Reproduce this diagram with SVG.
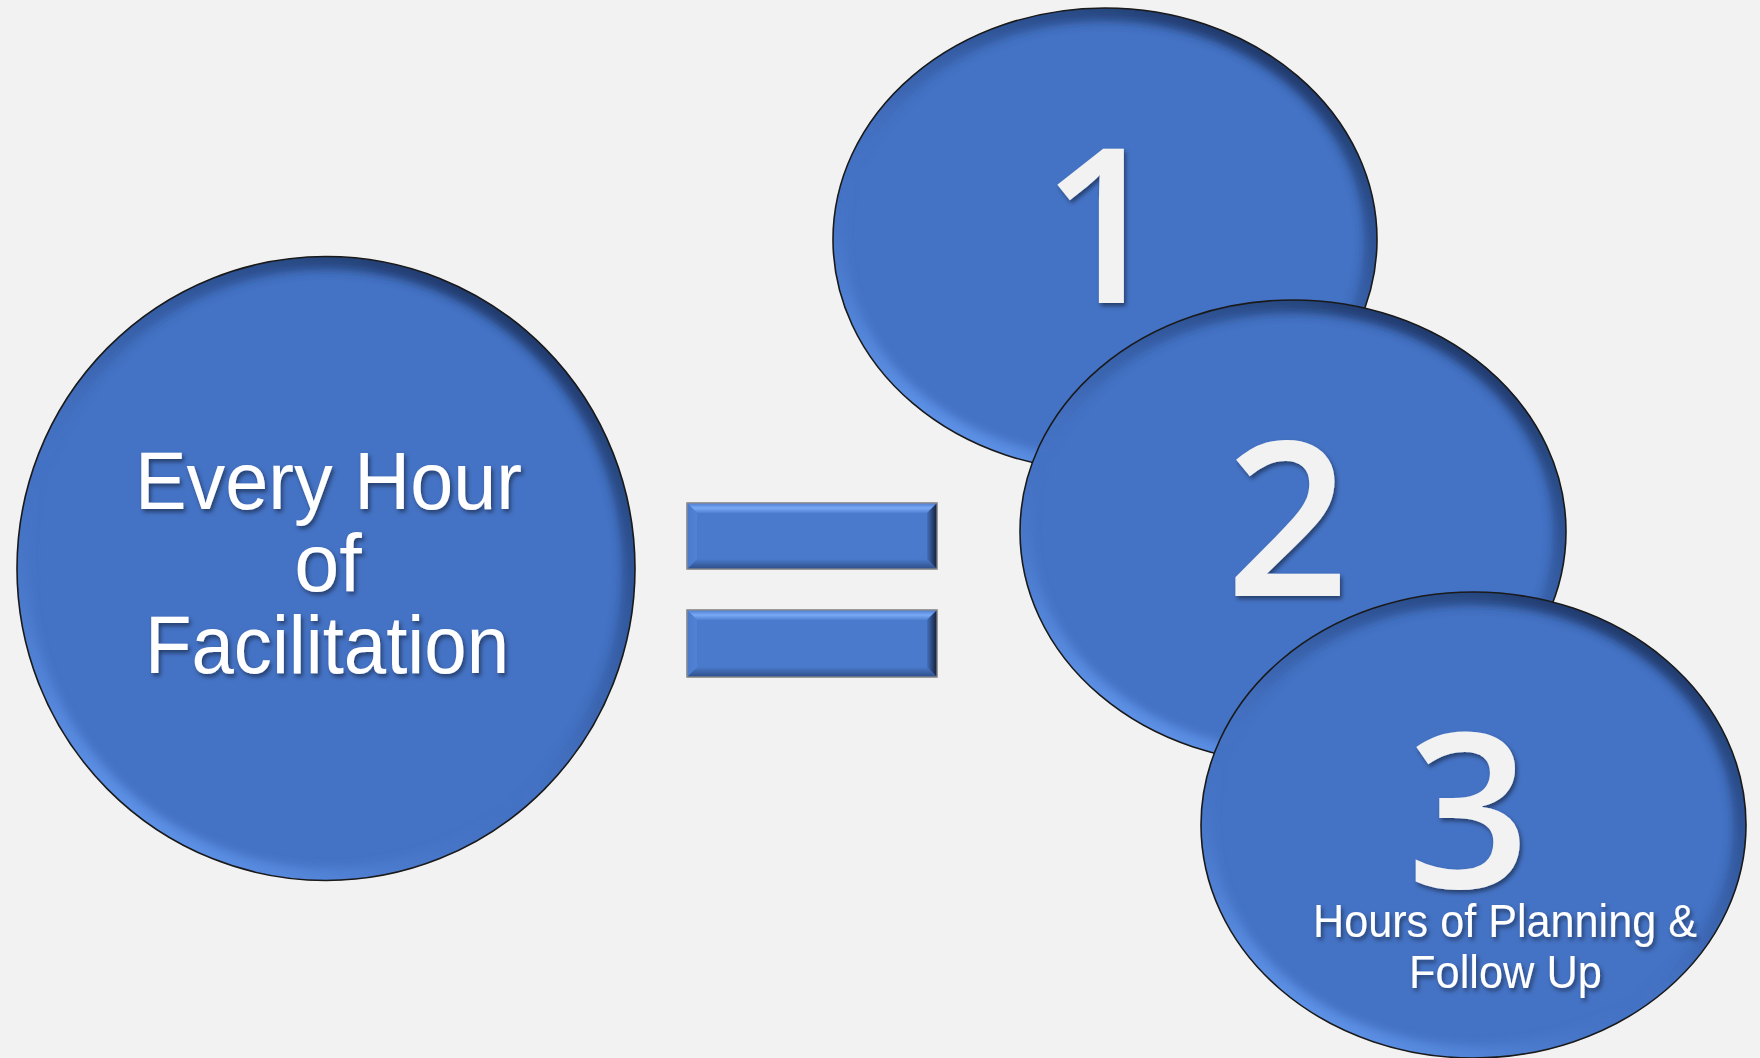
<svg xmlns="http://www.w3.org/2000/svg" width="1760" height="1058" viewBox="0 0 1760 1058">
<defs>
<style>
.disc{fill:#4472C4;}
.rim{fill:none;stroke:url(#rimGrad);stroke-width:26;filter:url(#blur);}
.edge{fill:none;stroke:#1a1a1a;stroke-width:1.6;}
.lbl{font-family:"Liberation Sans",Arial,sans-serif;fill:#FFFFFF;text-anchor:middle;filter:url(#tshadow);}
.num{font-family:"Open Sans","Liberation Sans",Arial,sans-serif;font-weight:600;fill:#F2F2F2;text-anchor:middle;font-size:216px;filter:url(#tshadow);}
.bar{fill:#4A7ACB;stroke:#8C8C8C;stroke-width:1.2;}
</style>
<linearGradient id="rimGrad" x1="0.85" y1="0" x2="0.15" y2="1">
<stop offset="0" stop-color="#13284F" stop-opacity="0.95"/>
<stop offset="0.45" stop-color="#2A4C8C" stop-opacity="0.35"/>
<stop offset="0.62" stop-color="#4472C4" stop-opacity="0"/>
<stop offset="1" stop-color="#6FA8FF" stop-opacity="1"/>
</linearGradient>
<linearGradient id="gTop" x1="0" y1="0" x2="0" y2="1">
<stop offset="0" stop-color="#4B7BCD"/>
<stop offset="0.5" stop-color="#7AA9F6"/>
<stop offset="1" stop-color="#4F80D2"/>
</linearGradient>
<linearGradient id="gBot" x1="0" y1="0" x2="0" y2="1">
<stop offset="0" stop-color="#4A7ACB"/>
<stop offset="1" stop-color="#2E4E88"/>
</linearGradient>
<linearGradient id="gRight" x1="0" y1="0" x2="1" y2="0">
<stop offset="0" stop-color="#4470BC"/>
<stop offset="1" stop-color="#121E38"/>
</linearGradient>
<linearGradient id="gLeft" x1="0" y1="0" x2="1" y2="0">
<stop offset="0" stop-color="#4A7ACB"/>
<stop offset="1" stop-color="#5282D3"/>
</linearGradient>
<filter id="blur" x="-10%" y="-10%" width="120%" height="120%">
<feGaussianBlur stdDeviation="5"/>
</filter>
<filter id="tshadow" x="-10%" y="-10%" width="120%" height="130%">
<feDropShadow dx="2" dy="3" stdDeviation="2" flood-color="#000" flood-opacity="0.45"/>
</filter>
<clipPath id="cp0"><ellipse cx="326" cy="568.5" rx="309" ry="312"/></clipPath>
<clipPath id="cp1"><ellipse cx="1105" cy="239.5" rx="272" ry="231.5"/></clipPath>
<clipPath id="cp2"><ellipse cx="1293" cy="531.5" rx="273" ry="231.5"/></clipPath>
<clipPath id="cp3"><ellipse cx="1473.5" cy="825" rx="272.5" ry="233"/></clipPath>
</defs>
<rect x="0" y="0" width="1760" height="1058" fill="#F2F2F2"/>

<g id="node-every-hour">
<ellipse class="disc" cx="326" cy="568.5" rx="309" ry="312"/>
<ellipse class="rim" cx="326" cy="568.5" rx="309" ry="312" clip-path="url(#cp0)"/>
<ellipse class="edge" cx="326" cy="568.5" rx="309" ry="312"/>
<text class="lbl" font-size="81" x="328.5" y="509" textLength="387" lengthAdjust="spacingAndGlyphs">Every Hour</text>
<text class="lbl" font-size="81" x="328" y="591">of</text>
<text class="lbl" font-size="81" x="327" y="673" textLength="364" lengthAdjust="spacingAndGlyphs">Facilitation</text>
</g>

<g id="node-equals">
<rect class="bar" x="687" y="503" width="250" height="66"/>
<polygon points="687,503 937,503 927,513 697,513" fill="url(#gTop)"/>
<polygon points="687,569 937,569 927,559 697,559" fill="url(#gBot)"/>
<polygon points="937,503 937,569 927,559 927,513" fill="url(#gRight)"/>
<polygon points="687,503 687,569 697,559 697,513" fill="url(#gLeft)"/>
<rect x="687" y="503" width="250" height="66" fill="none" stroke="#8C8C8C" stroke-width="1.2"/>
<rect class="bar" x="687" y="610" width="250" height="67"/>
<polygon points="687,610 937,610 927,620 697,620" fill="url(#gTop)"/>
<polygon points="687,677 937,677 927,667 697,667" fill="url(#gBot)"/>
<polygon points="937,610 937,677 927,667 927,620" fill="url(#gRight)"/>
<polygon points="687,610 687,677 697,667 697,620" fill="url(#gLeft)"/>
<rect x="687" y="610" width="250" height="67" fill="none" stroke="#8C8C8C" stroke-width="1.2"/>
</g>

<g id="node-1">
<ellipse class="disc" cx="1105" cy="239.5" rx="272" ry="231.5"/>
<ellipse class="rim" cx="1105" cy="239.5" rx="272" ry="231.5" clip-path="url(#cp1)"/>
<ellipse class="edge" cx="1105" cy="239.5" rx="272" ry="231.5"/>
<text class="num" x="1103" y="303">1</text>
</g>

<g id="node-2">
<ellipse class="disc" cx="1293" cy="531.5" rx="273" ry="231.5"/>
<ellipse class="rim" cx="1293" cy="531.5" rx="273" ry="231.5" clip-path="url(#cp2)"/>
<ellipse class="edge" cx="1293" cy="531.5" rx="273" ry="231.5"/>
<text class="num" x="1287.5" y="596">2</text>
</g>

<g id="node-3">
<ellipse class="disc" cx="1473.5" cy="825" rx="272.5" ry="233"/>
<ellipse class="rim" cx="1473.5" cy="825" rx="272.5" ry="233" clip-path="url(#cp3)"/>
<ellipse class="edge" cx="1473.5" cy="825" rx="272.5" ry="233"/>
<text class="num" x="1468.5" y="888">3</text>
<text class="lbl" font-size="46" x="1505" y="937" textLength="384" lengthAdjust="spacingAndGlyphs">Hours of Planning &amp;</text>
<text class="lbl" font-size="46" x="1505.5" y="988" textLength="193" lengthAdjust="spacingAndGlyphs">Follow Up</text>
</g>

<g id="connectors"/>
</svg>
